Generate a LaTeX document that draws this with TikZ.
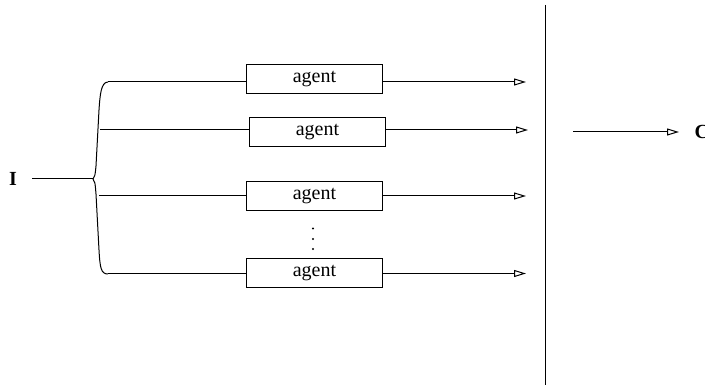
\documentclass[tikz,border=0pt]{standalone}
\usepackage{fontspec}
\setmainfont{Liberation Serif}
\usetikzlibrary{arrows.meta}
\begin{document}
\begin{tikzpicture}[x=1pt,y=-1pt,line width=1pt,
  agentbox/.style={draw,line width=1.2pt,minimum width=136pt,minimum height=29pt,inner sep=0pt,
    font=\fontsize{20}{24}\selectfont},
  flow/.style={-{Triangle[open,length=12pt,width=7pt]}},
  lbl/.style={font=\fontsize{20}{24}\selectfont\bfseries,inner sep=0pt},
  dotmark/.style={circle,fill,inner sep=0pt,minimum size=2.2pt}]
\useasboundingbox (0,0) rectangle (705,390);

% input and output labels
\node[lbl] (in) at (13,179) {I};
\node[lbl,anchor=west] (out) at (694,132) {C};

% brace fanning the input out
\coordinate (tip) at (93,179);
\coordinate (b1) at (108,82);
\coordinate (b2) at (100,130);
\coordinate (b3) at (99,196);
\coordinate (b4) at (108,274);
\draw (b1) .. controls (101,82) and (100,95) .. (99,110)
      -- (96,166) .. controls (95,176) .. (tip)
      .. controls (95,182) .. (96,194)
      -- (99,250) .. controls (100,268) and (101,274) .. (b4);
\draw (32,179) coordinate (inl) -- (tip);

% agents
\node[agentbox] (a1) at (314.5,78.8) {agent};
\node[agentbox] (a2) at (317.5,132.2) {agent};
\node[agentbox] (a3) at (314.5,195.8) {agent};
\node[agentbox] (a4) at (314.5,273.3) {agent};

% vertical ellipsis between the last two agents
\node[dotmark] (d1) at (313,228.5) {};
\node[dotmark] (d2) at (313,239) {};
\node[dotmark] (d3) at (313,249) {};

% arrow ends in front of the barrier
\coordinate (e1) at (526,82);
\coordinate (e2) at (528,130);
\coordinate (e3) at (526,196);
\coordinate (e4) at (526,273.5);

\draw (b1) -- (b1 -| a1.west);
\draw (b2) -- (b2 -| a2.west);
\draw (b3) -- (b3 -| a3.west);
\draw (b4) -- (b4 -| a4.west);

\draw[flow] (e1 -| a1.east) -- (e1);
\draw[flow] (e2 -| a2.east) -- (e2);
\draw[flow] (e3 -| a3.east) -- (e3);
\draw[flow] (e4 -| a4.east) -- (e4);

% barrier and output
\coordinate (vt) at (545,5);
\coordinate (vb) at (545,385);
\draw (vt) -- (vb);
\coordinate (os) at (573,132);
\coordinate (oe) at (679,132);
\draw[flow] (os) -- (oe);
\end{tikzpicture}
\end{document}
